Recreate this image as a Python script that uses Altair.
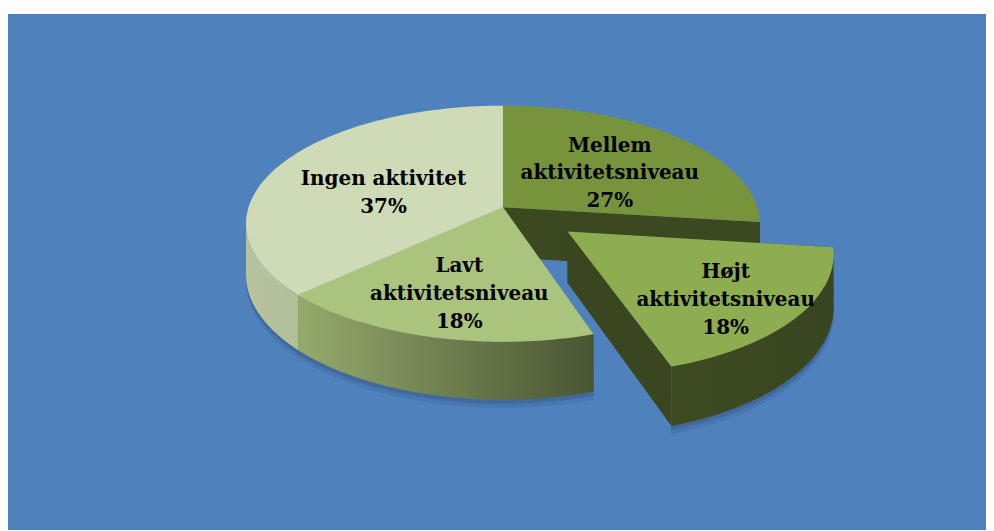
import altair as alt
import pandas as pd

# ---- data (clockwise from 12 o'clock) ----
categories = ["Mellem aktivitetsniveau", "Højt aktivitetsniveau",
              "Lavt aktivitetsniveau", "Ingen aktivitet"]
values = [27, 18, 18, 37]
label_names = ["Mellem|aktivitetsniveau", "Højt|aktivitetsniveau",
               "Lavt|aktivitetsniveau", "Ingen aktivitet"]
top_colors = ["#77933C", "#8DAD50", "#AAC47E", "#CFDAB6"]
face_colors = ["#3B4820", "#3A4620", "#6E7F4C", "#AEB996"]
EXPLODED = "Højt aktivitetsniveau"

df = pd.DataFrame({"idx": list(range(len(categories))), "cat": categories,
                   "value": values, "name": label_names})

# ---- 3-D projection parameters ----
K = 0.139      # perspective strength
S = 0.455      # tilt (vertical squash)
D = 0.196      # depth of the pie
EXPLODE = 0.32
N = 80
LO, HI = 1.7104, 4.5728   # visible rim angles
PXU = 255.5               # pixels per radius unit
LINE_H = 28

W, H = 982, 523
xs = alt.Scale(domain=[-1.945, 1.898], nice=False, zero=False)
ys = alt.Scale(domain=[-0.779, 1.268], nice=False, zero=False, reverse=True)

PX = f"datum.X/(1-{K}*datum.Z)"
PY = f"({S}*datum.Z+{D}*datum.h)/(1-{K}*datum.Z)"

base = (alt.Chart(df)
        .transform_window(cum="sum(value)", sort=[alt.SortField("idx")], frame=[None, 0])
        .transform_joinaggregate(total="sum(value)")
        .transform_calculate(
            a0="2*PI*(datum.cum-datum.value)/datum.total",
            a1="2*PI*datum.cum/datum.total",
        )
        .transform_calculate(
            am="(datum.a0+datum.a1)/2",
            ex=f"datum.cat == '{EXPLODED}' ? {EXPLODE} : 0",
        )
        .transform_calculate(
            ox="datum.ex*sin(datum.am)",
            oz="-datum.ex*cos(datum.am)",
        ))

enc_xy = dict(x=alt.X("px:Q", scale=xs, axis=None),
              y=alt.Y("py:Q", scale=ys, axis=None))

# radial faces
faces_base = (base
              .transform_calculate(seq="sequence(0, 8)")
              .transform_flatten(["seq"])
              .transform_calculate(
                  fid="datum.cat + (datum.seq < 4 ? '_0' : '_1')",
                  j="datum.seq % 4",
                  fa="datum.seq < 4 ? datum.a0 : datum.a1")
              .transform_calculate(
                  X="(datum.j == 0 || datum.j == 3) ? datum.ox : datum.ox + sin(datum.fa)",
                  Z="(datum.j == 0 || datum.j == 3) ? datum.oz : datum.oz - cos(datum.fa)",
                  h="datum.j >= 2 ? 1 : 0")
              .transform_calculate(px=PX, py=PY))


def faces(filt):
    return (faces_base.transform_filter(filt)
            .mark_line(filled=True, strokeWidth=0)
            .encode(**enc_xy,
                    fill=alt.Fill("cat:N", scale=alt.Scale(domain=categories, range=face_colors), legend=None),
                    detail="fid:N", order="j:Q"))


# outer walls (band between two heights h_top and h_bot along the visible rim)
def walls_base(h_top=0, h_bot=1):
    return (base
            .transform_calculate(wlo=f"max(datum.a0, {LO})")
            .transform_calculate(whi=f"max(datum.wlo, min(datum.a1, {HI}))")
            .transform_calculate(seq=f"sequence(0, {2 * N + 2})")
            .transform_flatten(["seq"])
            .transform_calculate(
                tt=f"datum.seq <= {N} ? datum.wlo + (datum.whi-datum.wlo)*datum.seq/{N} : datum.whi - (datum.whi-datum.wlo)*(datum.seq-{N}-1)/{N}",
                h=f"datum.seq <= {N} ? {h_top} : {h_bot}")
            .transform_calculate(
                X="datum.ox + sin(datum.tt)",
                Z="datum.oz - cos(datum.tt)")
            .transform_calculate(px=PX, py=PY))


def grad(c0, c1):
    return alt.LinearGradient(gradient="linear",
                              stops=[alt.GradientStop(offset=0, color=c0),
                                     alt.GradientStop(offset=1, color=c1)],
                              x1=0, x2=1, y1=0, y2=0)


def wall(cat, fill):
    return (walls_base().transform_filter(f"datum.cat == '{cat}'")
            .mark_line(filled=True, fill=fill, strokeWidth=0)
            .encode(**enc_xy, order="seq:Q"))


def shadow(h_bot, op):
    return (walls_base(0.5, h_bot)
            .mark_line(filled=True, fill="#2B4C78", strokeWidth=0, opacity=op)
            .encode(**enc_xy, detail="cat:N", order="seq:Q"))


tops = (base
        .transform_calculate(seq=f"sequence(0, {N + 2})")
        .transform_flatten(["seq"])
        .transform_calculate(t=f"datum.a0 + (datum.a1-datum.a0)*(datum.seq-1)/{N}")
        .transform_calculate(
            X="datum.seq == 0 ? datum.ox : datum.ox + sin(datum.t)",
            Z="datum.seq == 0 ? datum.oz : datum.oz - cos(datum.t)",
            h="0")
        .transform_calculate(px=PX, py=PY)
        .mark_line(filled=True, strokeWidth=0)
        .encode(**enc_xy,
                color=alt.Color("cat:N", scale=alt.Scale(domain=categories, range=top_colors), legend=None),
                detail="cat:N", order="seq:Q"))

# labels at the centroid of each (projected) sector
labels = (base
          .transform_calculate(
              span="datum.a1 - datum.a0",
              lines="split(datum.name + '|' + format(datum.value/datum.total, '.0%'), '|')")
          .transform_calculate(rho="4*sin(datum.span/2)/(3*datum.span) + datum.ex*0.25")
          .transform_calculate(
              X="datum.ox + datum.rho*sin(datum.am)",
              Z="datum.oz - datum.rho*cos(datum.am)",
              h="0")
          .transform_calculate(px=PX, py0=PY)
          .transform_calculate(py=f"datum.py0 - (length(datum.lines)-1)*{LINE_H / 2}/{PXU}")
          .mark_text(font="DejaVu Serif", fontWeight="bold", fontSize=20, lineHeight=LINE_H,
                     align="center", baseline="middle", color="black", dy=9)
          .encode(**enc_xy, text=alt.Text("lines:N")))

bg = (alt.Chart(pd.DataFrame({"a": [0]}))
      .mark_rect(color="#4F81BD")
      .encode(x=alt.value(0), x2=alt.value(W), y=alt.value(5), y2=alt.value(H)))

chart = (alt.layer(
    bg,
    shadow(1.14, 0.18),
    shadow(1.07, 0.3),
    faces(f"datum.cat != '{EXPLODED}'"),
    faces(f"datum.cat == '{EXPLODED}'"),
    wall("Ingen aktivitet", grad("#B7C39E", "#B2BF99")),
    wall("Lavt aktivitetsniveau", grad("#94AA6C", "#4A5532")),
    wall("Højt aktivitetsniveau", grad("#3E4B22", "#384520")),
    tops,
    labels,
).resolve_scale(color="independent", fill="independent")
 .properties(width=W, height=H, padding=0, background="white")
 .configure_view(stroke=None))

chart.save("out.html", embed_options={"renderer": "svg", "actions": False})
